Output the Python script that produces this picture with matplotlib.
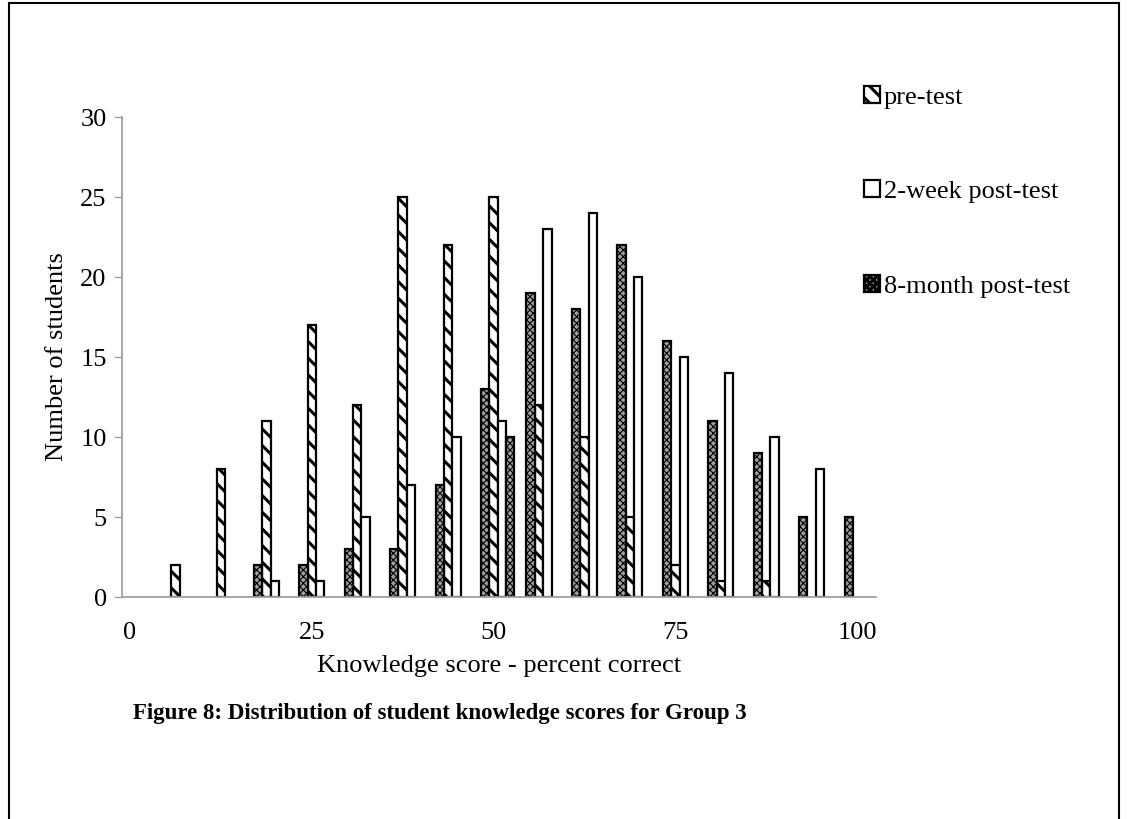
import matplotlib
matplotlib.use("Agg")
import matplotlib.pyplot as plt
from matplotlib.patches import Patch
from matplotlib.lines import Line2D

# ---- data ----
scores = [6.25, 12.5, 18.75, 25, 31.25, 37.5, 43.75, 50,
          56.25, 62.5, 68.75, 75, 81.25, 87.5, 93.75, 100]
pre_test = [2, 8, 11, 17, 12, 25, 22, 25, 12, 10, 5, 2, 1, 1, 0, 0]
two_week = [0, 0, 1, 1, 5, 7, 10, 11, 23, 24, 20, 15, 14, 10, 8, 0]
eight_month = [0, 0, 2, 2, 3, 3, 7, 13, 19, 18, 22, 16, 11, 9, 5, 5]
eight_month_extra_scores = [50]
eight_month_extra = [10]
series_names = ["pre-test", "2-week post-test", "8-month post-test"]
x_ticks = [0, 25, 50, 75, 100]
y_ticks = [0, 5, 10, 15, 20, 25, 30]
x_label = "Knowledge score - percent correct"
y_label = "Number of students"
title = "Figure 8: Distribution of student knowledge scores for Group 3"

plt.rcParams["font.family"] = ["Liberation Serif", "DejaVu Serif"]
plt.rcParams["hatch.linewidth"] = 2.2

W, H = 1128, 819
fig = plt.figure(figsize=(W / 100, H / 100), dpi=100)
fig.patch.set_facecolor("white")

ax_l, ax_r, ax_t, ax_b = 122, 876, 117, 597
ax = fig.add_axes([ax_l / W, 1 - ax_b / H, (ax_r - ax_l) / W, (ax_b - ax_t) / H])

bw = 1.15
edge_lw = 1.6
check_face = "#a0a0a0"
check_hatch = "xxxxx"


def draw(xs, vals, offset, **kw):
    px = [x + offset for x, v in zip(xs, vals) if v > 0]
    pv = [v for v in vals if v > 0]
    bars = ax.bar(px, pv, width=bw, edgecolor="black", linewidth=edge_lw, **kw)
    return bars


b_pre = draw(scores, pre_test, 0, facecolor="white", hatch="\\\\")
b_two = draw(scores, two_week, bw, facecolor="white")
b_eight = draw(scores, eight_month, -bw, facecolor=check_face, hatch=check_hatch)
b_extra = draw(eight_month_extra_scores, eight_month_extra, 2 * bw,
               facecolor=check_face, hatch=check_hatch)
for cont in (b_eight, b_extra):
    for p in cont:
        if hasattr(p, "set_hatch_linewidth"):
            p.set_hatch_linewidth(0.8)

ax.set_xlim(-1.1, 102.6)
ax.set_ylim(0, 30)
ax.set_yticks(y_ticks)
ax.set_xticks(x_ticks)
ax.tick_params(axis="y", direction="out", length=6, width=1, color="#a0a0a0",
               labelsize=19, pad=5)
ax.tick_params(axis="x", length=0, labelsize=19, pad=18)
for s in ("top", "right"):
    ax.spines[s].set_visible(False)
for s in ("left", "bottom"):
    ax.spines[s].set_color("#a0a0a0")
    ax.spines[s].set_linewidth(1.3)
ax.set_facecolor("none")

ax.set_xlabel(x_label, fontsize=19, labelpad=8)
ax.set_ylabel(y_label, fontsize=19, labelpad=9)

h_pre = Patch(facecolor="white", edgecolor="black", hatch="\\\\", linewidth=edge_lw)
h_two = Patch(facecolor="white", edgecolor="black", linewidth=edge_lw)
h_eight = Patch(facecolor=check_face, edgecolor="black", hatch=check_hatch,
                linewidth=edge_lw)
if hasattr(h_eight, "set_hatch_linewidth"):
    h_eight.set_hatch_linewidth(0.8)
leg = fig.legend([h_pre, h_two, h_eight], series_names, loc="upper left",
                 bbox_to_anchor=(864 / W, 1 - 86 / H), frameon=False,
                 fontsize=19, handlelength=0.6, handleheight=0.6,
                 handletextpad=0.15, labelspacing=2.72, borderpad=0,
                 borderaxespad=0)

fig.text(133 / W, 1 - 713 / H, title, fontsize=16.5, fontweight="bold",
         va="center", ha="left")

# outer frame
fig.add_artist(Line2D([9 / W, 9 / W], [0, 1 - 3 / H], color="black", lw=1.5,
                      transform=fig.transFigure))
fig.add_artist(Line2D([9 / W, 1119 / W], [1 - 3 / H, 1 - 3 / H], color="black",
                      lw=1.5, transform=fig.transFigure))
fig.add_artist(Line2D([1119 / W, 1119 / W], [0, 1 - 3 / H], color="black",
                      lw=1.5, transform=fig.transFigure))

fig.savefig("out.png", dpi=100)
